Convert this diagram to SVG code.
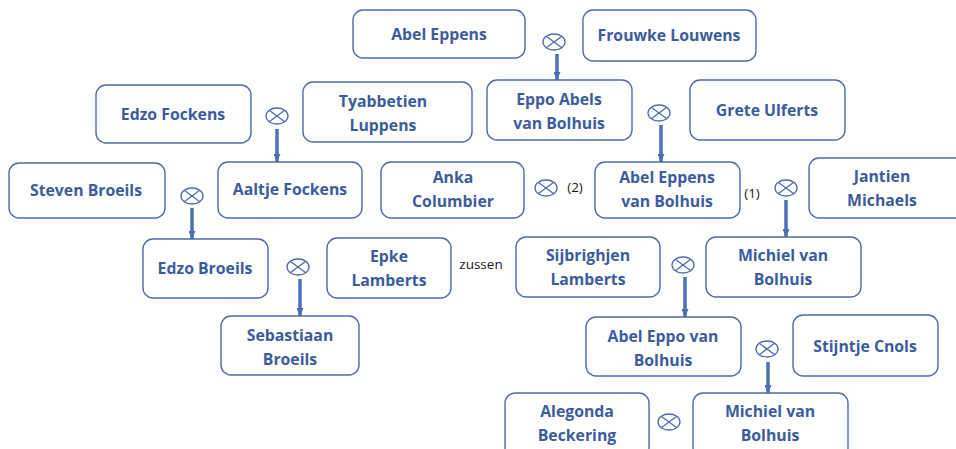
<svg xmlns="http://www.w3.org/2000/svg" width="956" height="449" viewBox="0 0 956 449">
<defs>
<style>
.box{fill:#fff;stroke:#4d6bab;stroke-width:1.4}
.t{font-family:"Open Sans","Liberation Sans",sans-serif;font-weight:bold;font-size:15.8px;fill:#3c5c9d;text-anchor:middle;dominant-baseline:central}
.lbl{font-family:"Open Sans","Liberation Sans",sans-serif;font-size:13.5px;fill:#1a1a1a;text-anchor:middle;dominant-baseline:central}
.m{fill:none;stroke:#4d6bab;stroke-width:1.3}
.c{stroke:#4a70b8;stroke-width:3.5;fill:none}
</style>
<marker id="ah" markerUnits="userSpaceOnUse" markerWidth="9" markerHeight="7" refX="8" refY="3.5" orient="auto">
<path d="M0,0 L8,3.5 L0,7 Z" fill="#4a70b8"/>
</marker>
<g id="marr">
<ellipse cx="0" cy="0" rx="11" ry="8" class="m"/>
<line x1="-7.8" y1="-5.7" x2="7.8" y2="5.7" class="m"/>
<line x1="-7.8" y1="5.7" x2="7.8" y2="-5.7" class="m"/>
</g>
</defs>
<rect width="956" height="449" fill="#fff"/>

<g id="connectors">
<line x1="557" y1="54" x2="557" y2="80" class="c" marker-end="url(#ah)"/>
<line x1="661" y1="125" x2="661" y2="162" class="c" marker-end="url(#ah)"/>
<line x1="277" y1="129" x2="277" y2="162" class="c" marker-end="url(#ah)"/>
<line x1="192" y1="208" x2="192" y2="239" class="c" marker-end="url(#ah)"/>
<line x1="300" y1="279" x2="300" y2="316" class="c" marker-end="url(#ah)"/>
<line x1="786" y1="200" x2="786" y2="237" class="c" marker-end="url(#ah)"/>
<line x1="685" y1="277" x2="685" y2="317" class="c" marker-end="url(#ah)"/>
<line x1="768" y1="362" x2="768" y2="393" class="c" marker-end="url(#ah)"/>
</g>

<g id="marriages">
<use href="#marr" x="554" y="42"/>
<use href="#marr" x="659" y="113"/>
<use href="#marr" x="277" y="116"/>
<use href="#marr" x="192" y="196"/>
<use href="#marr" x="298" y="267"/>
<use href="#marr" x="546" y="188"/>
<use href="#marr" x="786" y="188"/>
<use href="#marr" x="683" y="265"/>
<use href="#marr" x="767" y="349"/>
<use href="#marr" x="669" y="422"/>
</g>

<g id="labels">
<text class="lbl" x="575" y="187">(2)</text>
<text class="lbl" x="752" y="193">(1)</text>
<text class="lbl" x="481" y="264">zussen</text>
</g>

<g id="n1"><rect class="box" x="353" y="10" width="172" height="48" rx="10"/><text class="t" x="439" y="34">Abel Eppens</text></g>
<g id="n2"><rect class="box" x="583" y="10" width="173" height="51" rx="10"/><text class="t" x="669" y="35">Frouwke Louwens</text></g>
<g id="n3"><rect class="box" x="487" y="80" width="145" height="60" rx="10"/><text class="t" x="559" y="99">Eppo Abels</text><text class="t" x="559" y="123">van Bolhuis</text></g>
<g id="n4"><rect class="box" x="303" y="82" width="169" height="60" rx="10"/><text class="t" x="383" y="101">Tyabbetien</text><text class="t" x="383" y="125">Luppens</text></g>
<g id="n5"><rect class="box" x="690" y="80" width="155" height="60" rx="10"/><text class="t" x="767" y="110">Grete Ulferts</text></g>
<g id="n6"><rect class="box" x="96" y="85" width="155" height="58" rx="10"/><text class="t" x="173" y="114">Edzo Fockens</text></g>
<g id="n7"><rect class="box" x="218" y="162" width="144" height="56" rx="10"/><text class="t" x="290" y="189">Aaltje Fockens</text></g>
<g id="n8"><rect class="box" x="9" y="163" width="156" height="55" rx="10"/><text class="t" x="86" y="190">Steven Broeils</text></g>
<g id="n9"><rect class="box" x="381" y="162" width="143" height="56" rx="10"/><text class="t" x="453" y="177">Anka</text><text class="t" x="453" y="201">Columbier</text></g>
<g id="n10"><rect class="box" x="595" y="162" width="145" height="56" rx="10"/><text class="t" x="667" y="177">Abel Eppens</text><text class="t" x="667" y="201">van Bolhuis</text></g>
<g id="n11"><rect class="box" x="809" y="158" width="160" height="60" rx="10"/><text class="t" x="882" y="176">Jantien</text><text class="t" x="882" y="200">Michaels</text></g>
<g id="n12"><rect class="box" x="143" y="239" width="125" height="59" rx="10"/><text class="t" x="205" y="268">Edzo Broeils</text></g>
<g id="n13"><rect class="box" x="327" y="238" width="124" height="60" rx="10"/><text class="t" x="389" y="256">Epke</text><text class="t" x="389" y="280">Lamberts</text></g>
<g id="n14"><rect class="box" x="516" y="237" width="144" height="60" rx="10"/><text class="t" x="588" y="255">Sijbrighjen</text><text class="t" x="588" y="279">Lamberts</text></g>
<g id="n15"><rect class="box" x="706" y="237" width="155" height="60" rx="10"/><text class="t" x="783" y="255">Michiel van</text><text class="t" x="783" y="279">Bolhuis</text></g>
<g id="n16"><rect class="box" x="221" y="316" width="138" height="59" rx="10"/><text class="t" x="290" y="335">Sebastiaan</text><text class="t" x="290" y="359">Broeils</text></g>
<g id="n17"><rect class="box" x="586" y="317" width="155" height="59" rx="10"/><text class="t" x="663" y="336">Abel Eppo van</text><text class="t" x="663" y="360">Bolhuis</text></g>
<g id="n18"><rect class="box" x="793" y="315" width="145" height="61" rx="10"/><text class="t" x="865" y="346">Stijntje Cnols</text></g>
<g id="n19"><rect class="box" x="505" y="393" width="144" height="65" rx="10"/><text class="t" x="577" y="411">Alegonda</text><text class="t" x="577" y="435">Beckering</text></g>
<g id="n20"><rect class="box" x="693" y="393" width="155" height="65" rx="10"/><text class="t" x="770" y="411">Michiel van</text><text class="t" x="770" y="435">Bolhuis</text></g>
</svg>
